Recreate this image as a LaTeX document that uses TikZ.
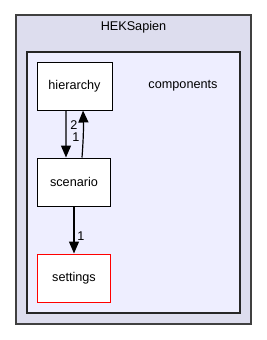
\documentclass[tikz,border=0pt]{standalone}
\usepackage{fontspec}
\setmainfont{Liberation Sans}
\usepackage{tikz}
\usetikzlibrary{arrows.meta,positioning}
\definecolor{outerfill}{HTML}{DDDDEE}
\definecolor{innerfill}{HTML}{EEEEFF}

\begin{document}
\begin{tikzpicture}[x=0.75pt, y=-0.75pt, >={Triangle[length=9pt,width=7.5pt]},
  every node/.style={font=\fontsize{9.5}{11}\selectfont},
  dirbox/.style={draw=black, fill=white, line width=0.75pt, minimum width=55pt, minimum height=36pt, inner sep=0pt},
  dep/.style={->, line width=0.9pt},
  deplabel/.style={inner sep=0pt}]
  \useasboundingbox (0,0) rectangle (267,340);

  % Clusters
  \draw[draw=black!75, fill=outerfill, line width=0.9pt] (16,15) rectangle (251,324);
  \node (heksapien) at (133.5,27) {HEKSapien};
  \draw[draw=black!85, fill=innerfill, line width=0.9pt] (27,52) rectangle (240,313);
  \node (components) at (183,86) {components};

  % Directories
  \node[dirbox, minimum width=56.25pt] (hierarchy) at (74.5,86) {hierarchy};
  \node[dirbox] (scenario) at (74,182) {scenario};
  \node[dirbox, draw=red] (settings) at (74,278) {settings};

  % Dependencies
  \draw[dep] ([xshift=-6.4pt]hierarchy.south) -- ([xshift=-6pt]scenario.north);
  \draw[dep] ([xshift=6pt]scenario.north) to[bend right=3] ([xshift=6.4pt]hierarchy.south);
  \draw[dep] (scenario) -- (settings);

  % Edge labels
  \node[deplabel] (lbltwo) at (74,125.5) {2};
  \node[deplabel] (lblone) at (76,137.5) {1};
  \node[deplabel] (lblthree) at (81,236) {1};

\end{tikzpicture}
\end{document}
